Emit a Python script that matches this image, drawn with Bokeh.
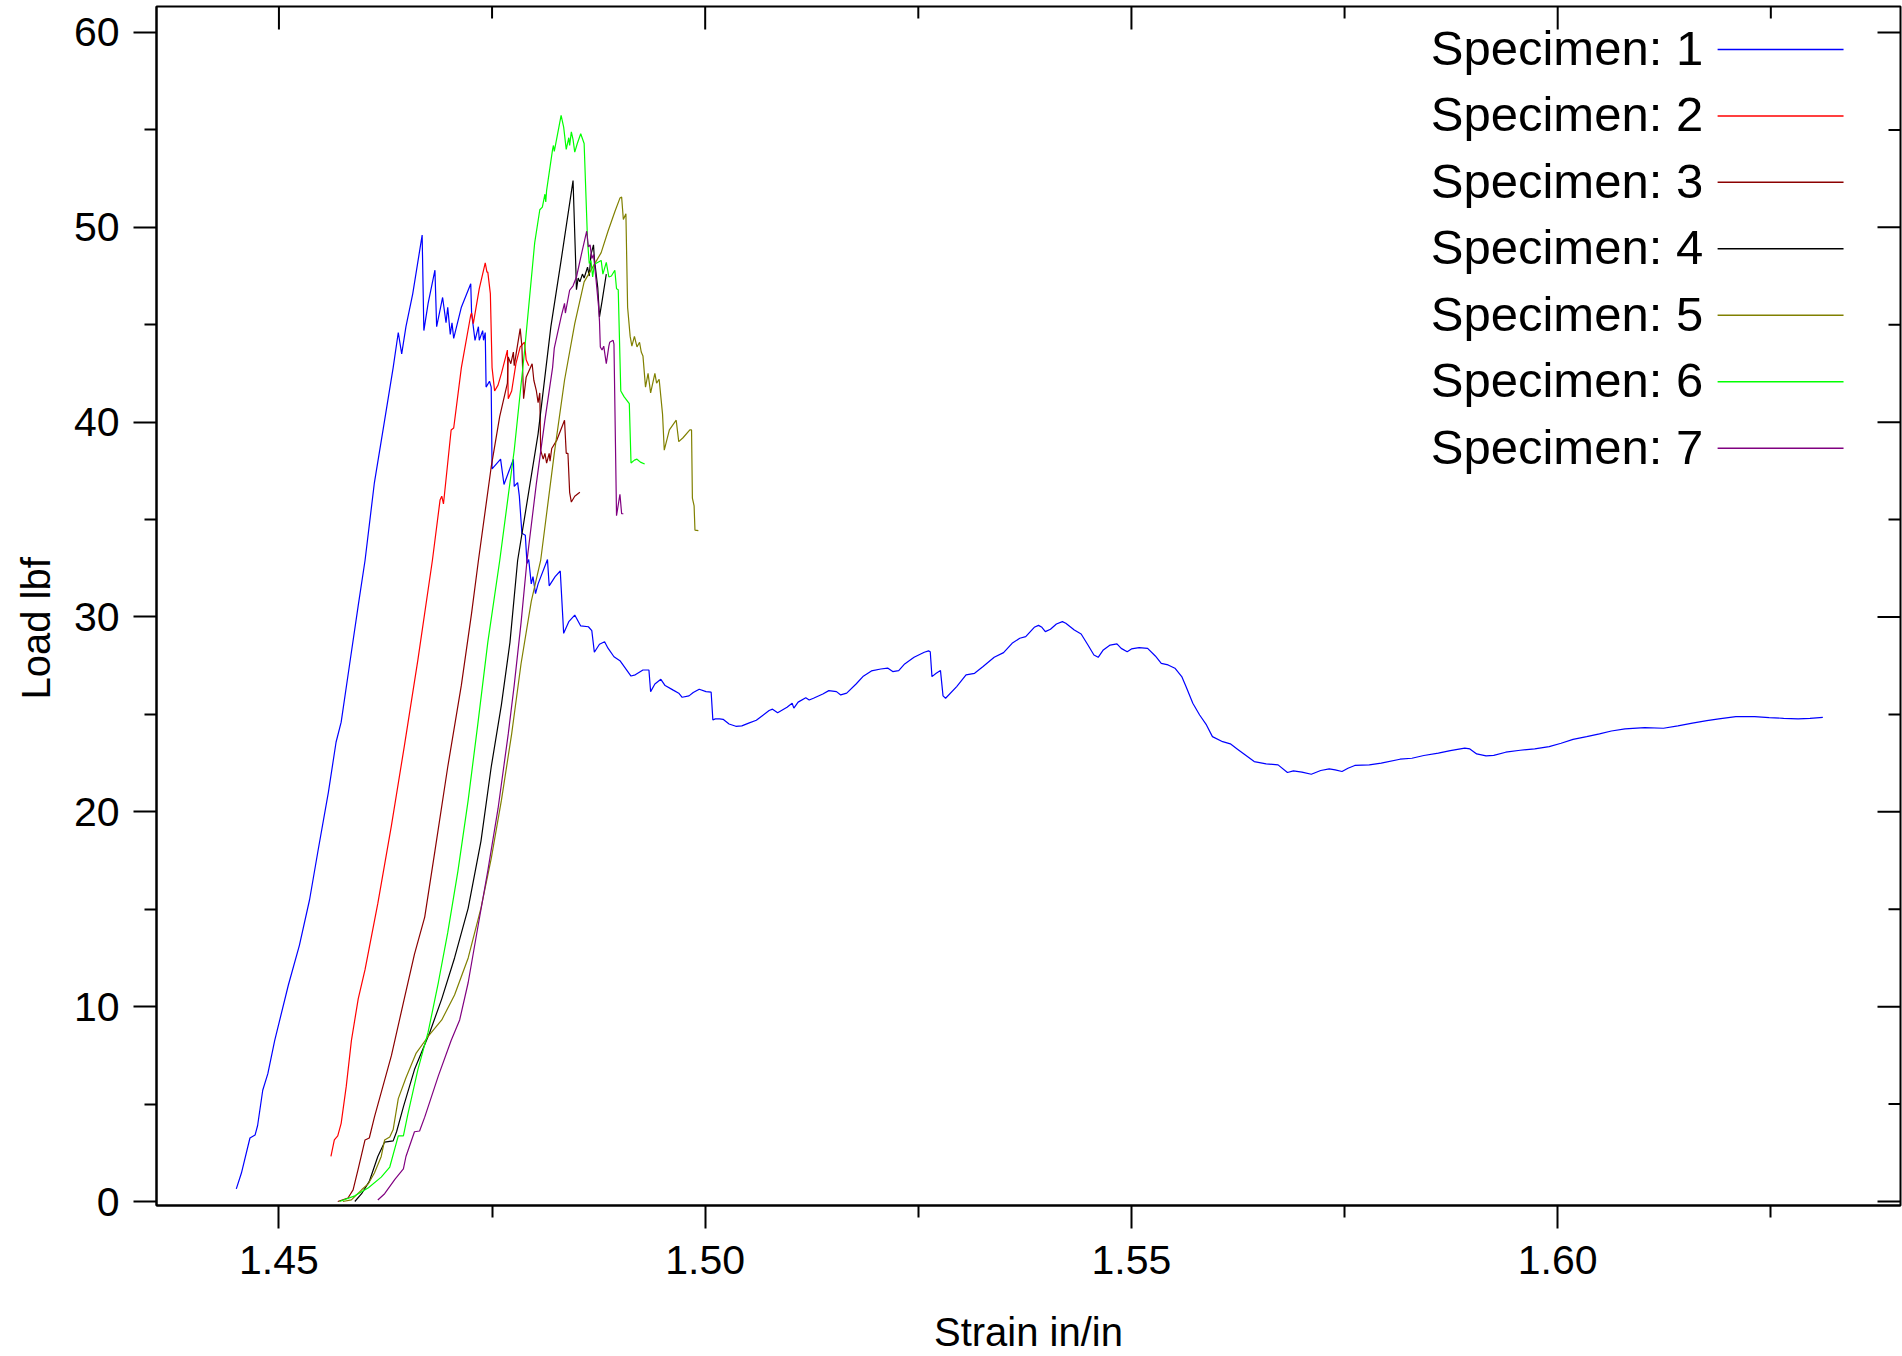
from bokeh.plotting import figure
from bokeh.models import FixedTicker, PrintfTickFormatter, Range1d, Title
from bokeh.core.properties import value
from bokeh.embed import file_html
from bokeh.resources import INLINE

# ---------------- data ----------------
specimens = ["Specimen: 1", "Specimen: 2", "Specimen: 3", "Specimen: 4",
             "Specimen: 5", "Specimen: 6", "Specimen: 7"]
colors = ["#0000FF", "#FF0000", "#8B0000", "#000000", "#808000", "#00FF00", "#800080"]

s1_x = [1.4450,1.4456,1.4466,1.4472,1.4475,1.4481,1.4487,1.4495,1.4511,1.4524,1.4536,1.4546,1.4558,1.4567,1.4573,1.4583,1.4593,1.4601,1.4612,1.4624,1.4634,1.4640,1.4642,1.4644,1.4649,1.4657,1.4668,1.4670,1.4675,1.4683,1.4685,1.4692,1.4696,1.4698,1.4701,1.4703,1.4705,1.4714,1.4725,1.4726,1.4730,1.4734,1.4735,1.4739,1.4740,1.4742,1.4743,1.4747,1.4749,1.4750,1.4760,1.4764,1.4775,1.4776,1.4780,1.4782,1.4785,1.4789,1.4791,1.4793,1.4796,1.4798,1.4801,1.4804,1.4815,1.4817,1.4824,1.4830,1.4834,1.4840,1.4847,1.4854,1.4863,1.4867,1.4870,1.4876,1.4882,1.4886,1.4893,1.4900,1.4913,1.4918,1.4927,1.4934,1.4936,1.4941,1.4948,1.4953,1.4962,1.4969,1.4973,1.4981,1.4986,1.4993,1.5001,1.5007,1.5009,1.5012,1.5017,1.5021,1.5028,1.5036,1.5043,1.5051,1.5060,1.5075,1.5079,1.5085,1.5096,1.5102,1.5104,1.5109,1.5118,1.5122,1.5127,1.5138,1.5145,1.5154,1.5159,1.5166,1.5177,1.5185,1.5195,1.5206,1.5214,1.5220,1.5227,1.5234,1.5245,1.5257,1.5262,1.5264,1.5266,1.5271,1.5276,1.5279,1.5282,1.5295,1.5306,1.5316,1.5326,1.5339,1.5350,1.5360,1.5369,1.5376,1.5386,1.5391,1.5395,1.5399,1.5405,1.5412,1.5419,1.5423,1.5433,1.5441,1.5449,1.5456,1.5461,1.5467,1.5475,1.5483,1.5488,1.5495,1.5500,1.5509,1.5519,1.5528,1.5535,1.5543,1.5551,1.5559,1.5564,1.5572,1.5580,1.5588,1.5595,1.5607,1.5616,1.5624,1.5632,1.5644,1.5658,1.5672,1.5683,1.5690,1.5700,1.5711,1.5722,1.5732,1.5739,1.5747,1.5754,1.5762,1.5779,1.5793,1.5815,1.5829,1.5843,1.5860,1.5874,1.5891,1.5897,1.5905,1.5916,1.5925,1.5939,1.5956,1.5973,1.5990,1.6004,1.6018,1.6034,1.6049,1.6063,1.6079,1.6102,1.6124,1.6141,1.6158,1.6175,1.6189,1.6209,1.6231,1.6248,1.6265,1.6282,1.6296,1.6311]
s1_y = [0.65,1.46,3.26,3.41,3.9,5.71,6.56,8.26,11.1,13.15,15.5,18.04,21.0,23.57,24.6,27.6,30.58,32.9,36.9,40.1,42.8,44.6,44.05,43.5,44.9,46.6,49.6,44.7,46.1,47.8,44.9,46.4,45.1,45.9,44.5,45.1,44.3,45.9,47.1,45.6,44.2,44.9,44.2,44.7,44.2,44.6,41.8,42.1,41.8,37.6,38.1,36.8,38.1,36.7,36.9,36.2,34.3,34.2,32.75,32.95,31.7,32.07,31.2,31.7,32.95,31.6,32.07,32.36,29.16,29.76,30.1,29.54,29.5,29.3,28.19,28.6,28.73,28.4,27.96,27.76,26.97,27.03,27.28,27.28,26.17,26.56,26.8,26.48,26.26,26.09,25.88,25.95,26.12,26.29,26.17,26.14,24.72,24.77,24.77,24.75,24.51,24.39,24.41,24.55,24.7,25.2,25.27,25.09,25.37,25.57,25.32,25.63,25.85,25.74,25.83,26.05,26.22,26.17,26.0,26.09,26.56,26.94,27.23,27.33,27.38,27.2,27.25,27.59,27.93,28.19,28.26,28.22,26.94,27.11,27.25,25.95,25.83,26.43,27.03,27.11,27.46,27.93,28.17,28.65,28.91,28.99,29.47,29.57,29.47,29.25,29.37,29.64,29.76,29.68,29.33,29.13,28.56,28.05,27.93,28.31,28.56,28.62,28.39,28.22,28.36,28.43,28.39,28.0,27.62,27.54,27.37,26.94,26.43,25.57,24.97,24.46,23.86,23.6,23.49,23.23,22.97,22.58,22.46,22.41,22.02,22.1,22.04,21.93,22.12,22.2,22.15,22.07,22.24,22.38,22.41,22.5,22.7,22.75,22.89,23.01,23.14,23.27,23.23,22.97,22.87,22.9,23.06,23.16,23.23,23.35,23.52,23.72,23.86,24.0,24.15,24.26,24.32,24.29,24.41,24.55,24.68,24.77,24.89,24.89,24.84,24.8,24.77,24.8,24.85]

s2_x = [1.4561,1.4565,1.4569,1.4573,1.4579,1.4585,1.4593,1.4601,1.4616,1.4632,1.4647,1.4663,1.4680,1.4689,1.4691,1.4693,1.4702,1.4705,1.4714,1.4725,1.4726,1.4728,1.4735,1.4742,1.4744,1.4745,1.4748,1.4750,1.4753,1.4757,1.4761,1.4768,1.4769,1.4773,1.4778,1.4783,1.4788,1.4790,1.4793]
s2_y = [2.31,3.16,3.37,4.01,5.92,8.26,10.4,11.9,15.3,19.3,23.35,27.8,32.9,36.0,36.2,35.8,39.6,39.7,42.8,45.5,45.6,45.06,46.85,48.17,47.7,47.7,46.6,42.8,41.6,41.9,42.5,43.7,41.2,41.6,43.0,43.86,44.1,43.2,42.9]

s3_x = [1.4569,1.4581,1.4587,1.4593,1.4601,1.4606,1.4612,1.4632,1.4647,1.4659,1.4671,1.4683,1.4698,1.4714,1.4726,1.4734,1.4749,1.4759,1.4768,1.4769,1.4772,1.4775,1.4776,1.4783,1.4785,1.4787,1.4790,1.4797,1.4799,1.4802,1.4804,1.4806,1.4807,1.4810,1.4812,1.4814,1.4817,1.4818,1.4820,1.4826,1.4835,1.4837,1.4839,1.4841,1.4843,1.4847,1.4853]
s3_y = [0.0,0.18,0.6,1.67,3.16,3.26,4.33,7.5,10.4,12.7,14.6,18.0,22.3,26.5,30.2,32.9,37.7,40.3,42.0,43.35,43.0,43.6,42.9,44.8,43.9,41.2,42.3,43.0,42.15,41.6,41.0,41.5,38.56,38.1,38.4,37.9,38.4,38.0,38.65,39.08,40.1,38.4,38.4,36.4,35.9,36.2,36.4]

s4_x = [1.4589,1.4597,1.4606,1.4616,1.4624,1.4634,1.4638,1.4646,1.4659,1.4677,1.4691,1.4706,1.4722,1.4737,1.4749,1.4761,1.4771,1.4780,1.4804,1.4819,1.4831,1.4845,1.4848,1.4849,1.4851,1.4853,1.4856,1.4858,1.4862,1.4864,1.4866,1.4869,1.4870,1.4874,1.4876,1.4879,1.4884]
s4_y = [0.0,0.4,1.03,2.31,3.05,3.11,3.58,4.86,6.77,8.69,10.4,12.5,15.06,18.5,22.3,25.5,28.7,32.9,39.4,44.9,48.3,52.4,48.3,46.8,47.4,47.2,47.6,47.4,47.96,47.5,48.6,49.1,48.4,46.9,45.4,46.2,47.6]

s5_x = [1.4575,1.4585,1.4597,1.4605,1.4612,1.4620,1.4624,1.4630,1.4634,1.4640,1.4649,1.4661,1.4675,1.4691,1.4706,1.4722,1.4737,1.4749,1.4761,1.4773,1.4784,1.4796,1.4807,1.4823,1.4835,1.4847,1.4858,1.4878,1.4886,1.4894,1.4900,1.4902,1.4904,1.4907,1.4909,1.4912,1.4914,1.4917,1.4920,1.4923,1.4925,1.4927,1.4930,1.4933,1.4936,1.4941,1.4943,1.4946,1.4950,1.4952,1.4958,1.4966,1.4969,1.4974,1.4982,1.4984,1.4985,1.4987,1.4988,1.4992]
s5_y = [0.0,0.08,0.6,0.92,1.46,2.31,3.16,3.31,3.69,5.28,6.35,7.62,8.47,9.32,10.6,12.5,15.06,17.6,20.6,24.0,27.6,30.8,32.9,38.4,42.15,45.06,47.2,48.7,49.8,50.8,51.5,51.55,50.4,50.7,45.9,44.4,43.9,44.4,43.86,44.1,43.6,43.4,41.8,42.5,41.5,42.5,42.0,42.2,40.4,38.56,39.6,40.1,39.0,39.2,39.6,39.6,36.1,35.7,34.46,34.43]

s6_x = [1.4571,1.4589,1.4605,1.4620,1.4630,1.4640,1.4646,1.4651,1.4663,1.4675,1.4687,1.4698,1.4710,1.4722,1.4733,1.4745,1.4759,1.4776,1.4788,1.4800,1.4806,1.4809,1.4812,1.4813,1.4814,1.4821,1.4822,1.4823,1.4831,1.4834,1.4837,1.4840,1.4841,1.4843,1.4845,1.4847,1.4850,1.4854,1.4858,1.4862,1.4864,1.4866,1.4868,1.4870,1.4878,1.4880,1.4884,1.4887,1.4890,1.4894,1.4896,1.4898,1.4901,1.4905,1.4911,1.4913,1.4917,1.4920,1.4924,1.4929]
s6_y = [0.0,0.29,0.71,1.25,1.77,3.37,3.37,4.43,6.77,8.69,11.24,13.8,16.97,20.6,24.4,28.7,32.9,38.56,43.6,49.2,50.9,51.04,51.7,51.3,51.9,54.0,54.2,53.9,55.74,55.14,54.0,54.6,54.2,54.9,54.5,53.86,54.3,54.8,54.3,49.3,48.14,48.3,47.45,48.1,48.3,47.6,48.2,47.45,47.5,47.8,46.85,46.8,41.6,41.3,40.95,37.9,38.05,38.1,37.95,37.85]

s7_x = [1.4616,1.4624,1.4636,1.4646,1.4649,1.4659,1.4665,1.4671,1.4687,1.4702,1.4712,1.4722,1.4733,1.4745,1.4757,1.4769,1.4776,1.4784,1.4791,1.4802,1.4812,1.4821,1.4823,1.4831,1.4835,1.4836,1.4841,1.4845,1.4849,1.4855,1.4861,1.4863,1.4865,1.4867,1.4869,1.4872,1.4875,1.4876,1.4877,1.4879,1.4881,1.4884,1.4887,1.4888,1.4892,1.4893,1.4896,1.4900,1.4902,1.4904]
s7_y = [0.08,0.4,1.14,1.67,2.31,3.58,3.62,4.33,6.45,8.26,9.32,11.24,14.0,16.97,20.16,24.0,26.5,29.7,32.9,36.86,40.1,42.8,43.8,45.4,46.1,45.6,46.77,47.0,47.45,48.65,49.8,49.0,49.1,48.4,48.6,47.3,45.9,45.2,43.86,43.7,43.9,43.0,43.9,44.1,44.2,44.0,35.2,36.3,35.3,35.3]

series_x = [s1_x, s2_x, s3_x, s4_x, s5_x, s6_x, s7_x]
series_y = [s1_y, s2_y, s3_y, s4_y, s5_y, s6_y, s7_y]

x_major = [1.45, 1.50, 1.55, 1.60]
x_minor = [1.475, 1.525, 1.575, 1.625]
y_major = [0, 10, 20, 30, 40, 50, 60]
y_minor = [5, 15, 25, 35, 45, 55]

x_title = "Strain in/in"
y_title = "Load lbf"

# ---------------- layout ----------------
W, H = 1902, 1356
ML, MR, MT, MB = 155, 2, 6, 150
PX_X, PX_Y = 8530.0, 19.5            # px per data unit
X_REF_PX, X_REF_VAL = 277.5, 1.45    # canvas px of x = 1.45
Y_REF_PX = 1202.0                     # canvas px of y = 0

def dx(px):
    return X_REF_VAL + (px - X_REF_PX) / PX_X

def dy(py):
    return (Y_REF_PX - py) / PX_Y

x0, x1 = dx(ML), dx(W - MR)
y0, y1 = dy(H - MB), dy(MT)

FONT = "Liberation Sans"
TICK_FS = "41px"
TITLE_FS = "40px"
MAJ, MIN = 23, 12

p = figure(width=W, height=H, output_backend="svg", toolbar_location=None,
           x_range=Range1d(x0, x1), y_range=Range1d(y0, y1),
           min_border_left=ML, min_border_right=MR, min_border_top=MT, min_border_bottom=MB,
           background_fill_color="white", border_fill_color="white")
p.outline_line_color = "black"
p.outline_line_width = 2
p.xgrid.visible = False
p.ygrid.visible = False

for ax in (p.xaxis[0], p.yaxis[0]):
    ax.axis_line_width = 2
    ax.axis_line_color = "black"
    ax.major_tick_line_width = 2
    ax.minor_tick_line_width = 2
    ax.major_tick_line_color = "black"
    ax.minor_tick_line_color = "black"
    ax.major_tick_out = MAJ
    ax.major_tick_in = 0
    ax.minor_tick_out = MIN
    ax.minor_tick_in = 0
    ax.major_label_text_font = FONT
    ax.major_label_text_font_size = TICK_FS
    ax.major_label_text_color = "black"

p.xaxis.ticker = FixedTicker(ticks=x_major, minor_ticks=x_minor)
p.yaxis.ticker = FixedTicker(ticks=y_major, minor_ticks=y_minor)
p.xaxis.formatter = PrintfTickFormatter(format="%.2f")
p.xaxis.major_label_standoff = 17
p.yaxis.major_label_standoff = 14

p.xaxis.axis_label = x_title
p.xaxis.axis_label_text_font = FONT
p.xaxis.axis_label_text_font_size = TITLE_FS
p.xaxis.axis_label_text_font_style = "normal"
p.xaxis.axis_label_text_color = "black"
p.xaxis.axis_label_text_line_height = 0.7
p.xaxis.axis_label_standoff = 33

ytitle = Title(text=y_title, align="left", offset=506, text_font=FONT,
               text_font_size=TITLE_FS, text_font_style="normal", text_color="black",
               vertical_align="middle", standoff=24)
p.add_layout(ytitle, "left")

# mirrored inward ticks on the top and right frame edges
tx = x_major + x_minor
tlen_x = [MAJ] * len(x_major) + [MIN] * len(x_minor)
p.segment(x0=tx, y0=[y1] * len(tx), x1=tx, y1=[y1 - l / PX_Y for l in tlen_x],
          line_color="black", line_width=2)
ty = y_major + y_minor
tlen_y = [MAJ] * len(y_major) + [MIN] * len(y_minor)
p.segment(x0=[x1] * len(ty), y0=ty, x1=[x1 - l / PX_X for l in tlen_y], y1=ty,
          line_color="black", line_width=2)

# data lines
for xs, ys, c in zip(series_x, series_y, colors):
    p.line(xs, ys, line_color=c, line_width=1.2)

# legend (text on the left, line sample on the right)
row0, step = 49.0, 66.5
for i, (name, c) in enumerate(zip(specimens, colors)):
    yc = row0 + i * step
    p.text(x=[dx(1430)], y=[dy(yc - 1.5)], text=[name], text_font=value(FONT),
           text_font_size="49px", text_align="left", text_baseline="middle",
           text_color="black")
    p.segment(x0=[dx(1717)], y0=[dy(yc)], x1=[dx(1843)], y1=[dy(yc)],
              line_color=c, line_width=1.5)

open("out.html", "w").write(file_html(p, INLINE))
